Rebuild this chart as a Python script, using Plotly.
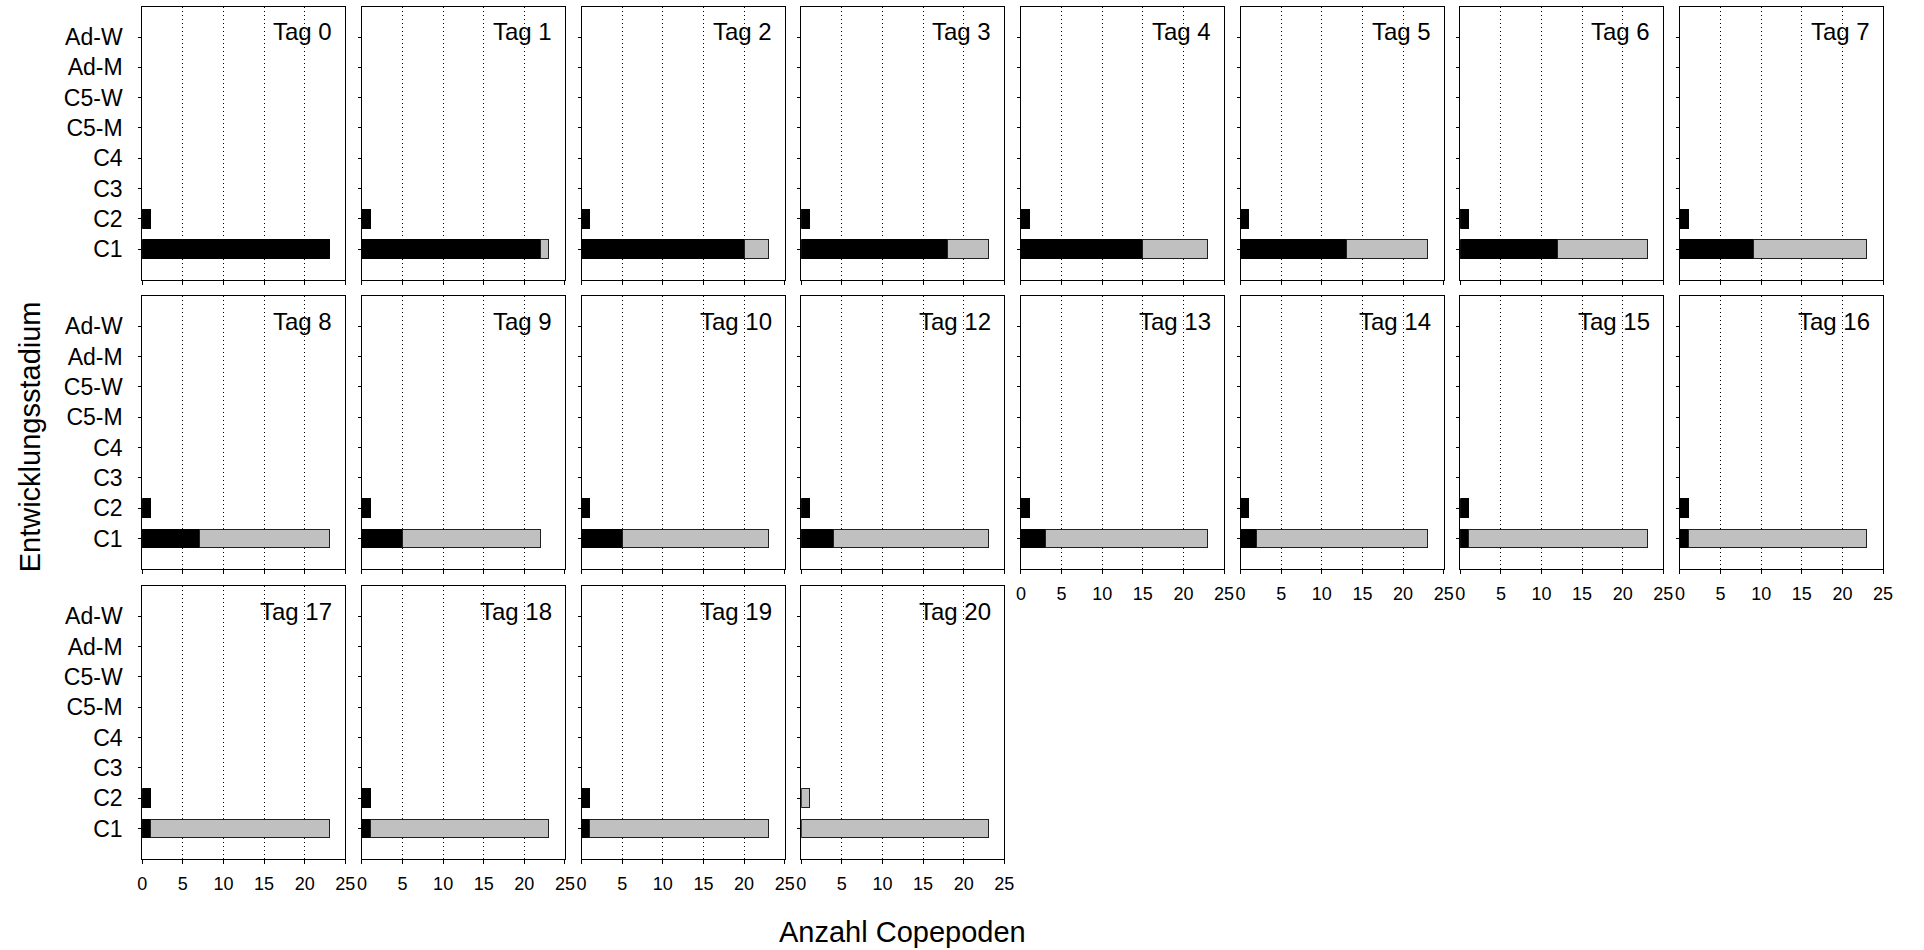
import plotly.graph_objects as go

# ---- data ----
stages = ["C1", "C2", "C3", "C4", "C5-M", "C5-W", "Ad-M", "Ad-W"]
days = [0, 1, 2, 3, 4, 5, 6, 7, 8, 9, 10, 12, 13, 14, 15, 16, 17, 18, 19, 20]
c1_black = [23, 22, 20, 18, 15, 13, 12, 9, 7, 5, 5, 4, 3, 2, 1, 1, 1, 1, 1, 0]
c1_gray = [0, 1, 3, 5, 8, 10, 11, 14, 16, 17, 18, 19, 20, 21, 22, 22, 22, 22, 22, 23]
c2_black = [1] * 19 + [0]
c2_gray = [0] * 19 + [1]
x_ticks = [0, 5, 10, 15, 20, 25]

W, H = 1924, 950
FONT = "Liberation Sans, Arial, sans-serif"

col_left0 = 138.3
col_pitch = 221.4
panel_w = 204.7
row_tops = [6.7, 296.0, 586.0]
panel_h = 272.8


def nz(v):
    return v if v else None


fig = go.Figure()
annotations = []

for k, day in enumerate(days):
    r, c = divmod(k, 8)
    sfx = "" if k == 0 else str(k + 1)
    xref, yref = "x" + sfx, "y" + sfx
    left = col_left0 + col_pitch * c
    top = row_tops[r]
    xd = [left / W, (left + panel_w) / W]
    yd = [1 - (top + panel_h) / H, 1 - top / H]

    black_vals = [None] * len(stages)
    gray_vals = [None] * len(stages)
    black_vals[0], black_vals[1] = nz(c1_black[k]), nz(c2_black[k])
    gray_vals[0], gray_vals[1] = nz(c1_gray[k]), nz(c2_gray[k])

    ypos = list(range(len(stages)))
    fig.add_trace(go.Bar(
        x=black_vals, y=ypos, orientation="h", xaxis=xref, yaxis=yref,
        marker=dict(color="black", line=dict(color="black", width=1)),
        width=0.62, showlegend=False, name="schwarz"))
    fig.add_trace(go.Bar(
        x=gray_vals, y=ypos, orientation="h", xaxis=xref, yaxis=yref,
        marker=dict(color="#c0c0c0", line=dict(color="#202020", width=1)),
        width=0.62, showlegend=False, name="grau"))

    show_xlabels = (r == 2) or (r == 1 and c >= 4)
    fig.layout["xaxis" + sfx] = dict(
        domain=xd, anchor=yref, range=[0, 25],
        tickvals=x_ticks, ticks="outside", ticklen=4, tickcolor="black",
        showticklabels=show_xlabels, ticklabelstandoff=5,
        tickfont=dict(family=FONT, size=18, color="black"),
        showgrid=True, gridcolor="black", gridwidth=1, griddash="1px,3px",
        showline=True, mirror=True, linecolor="black", linewidth=1,
        zeroline=False, fixedrange=True)
    fig.layout["yaxis" + sfx] = dict(
        domain=yd, anchor=xref, range=[-1, 8],
        tickvals=ypos, ticktext=stages, ticks="outside", ticklen=3,
        tickcolor="black", showticklabels=(c == 0), ticklabelstandoff=11,
        tickfont=dict(family=FONT, size=23, color="black"),
        showgrid=False, showline=True, mirror=True, linecolor="black",
        linewidth=1, zeroline=False, fixedrange=True)

    annotations.append(dict(
        text=f"Tag {day}", xref="paper", yref="paper",
        x=(left + panel_w - 11) / W, y=1 - (top + 25) / H,
        xanchor="right", yanchor="middle", showarrow=False,
        font=dict(family=FONT, size=24, color="black")))

annotations.append(dict(
    text="Anzahl Copepoden", xref="paper", yref="paper",
    x=904.7 / W, y=1 - 931.7 / H, xanchor="center", yanchor="middle",
    showarrow=False, font=dict(family=FONT, size=29, color="black")))
annotations.append(dict(
    text="Entwicklungsstadium", xref="paper", yref="paper",
    x=26 / W, y=1 - 436.5 / H, xanchor="center", yanchor="middle",
    textangle=-90, showarrow=False,
    font=dict(family=FONT, size=29, color="black")))

fig.update_layout(
    width=W, height=H, margin=dict(l=0, r=0, t=0, b=0),
    barmode="stack", bargap=0.38,
    plot_bgcolor="white", paper_bgcolor="white",
    font=dict(family=FONT, color="black"),
    annotations=annotations)

fig.write_html("out.html", config={"displayModeBar": False})
